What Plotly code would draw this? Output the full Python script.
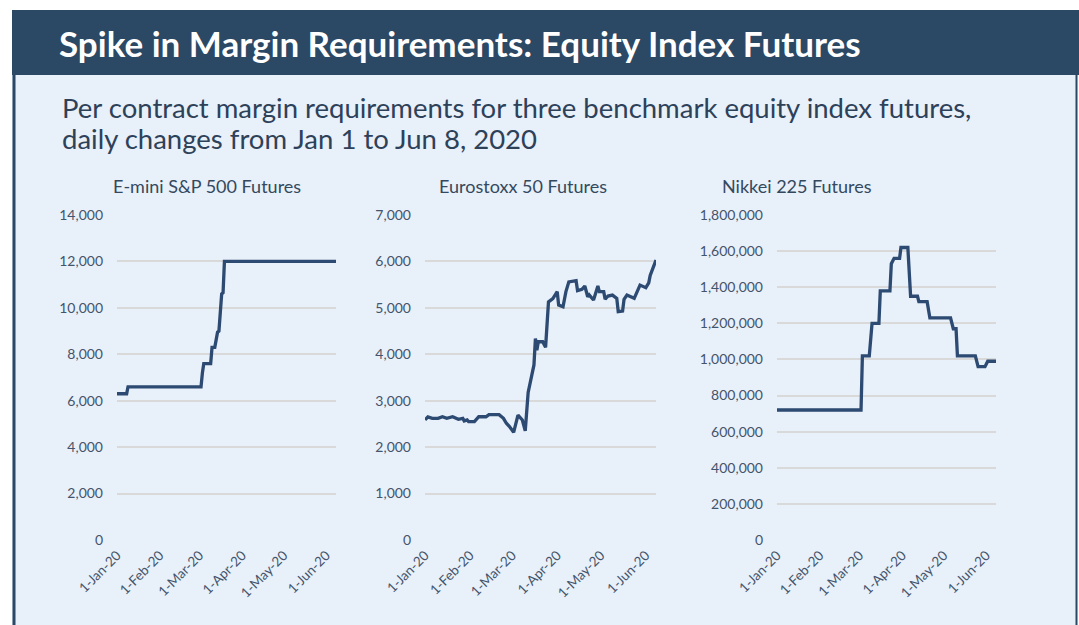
import plotly.graph_objects as go

# ---------------- data ----------------
sp_dates = ["2020-01-01", "2020-01-08", "2020-01-09", "2020-03-02", "2020-03-03", "2020-03-04",
            "2020-03-09", "2020-03-10", "2020-03-12", "2020-03-14", "2020-03-15", "2020-03-17",
            "2020-03-18", "2020-03-19", "2020-06-08"]
sp_values = [6300, 6300, 6600, 6600, 7200, 7600,
             7600, 8300, 8300, 8950, 9000, 10600,
             10650, 12000, 12000]

es_dates = ["2020-01-01", "2020-01-03", "2020-01-06", "2020-01-10", "2020-01-13", "2020-01-16",
            "2020-01-20", "2020-01-24", "2020-01-27", "2020-01-28", "2020-01-30", "2020-01-31",
            "2020-02-04", "2020-02-07", "2020-02-12", "2020-02-14", "2020-02-21", "2020-02-24",
            "2020-02-26", "2020-02-28", "2020-03-02", "2020-03-05", "2020-03-08", "2020-03-10",
            "2020-03-12", "2020-03-16", "2020-03-17", "2020-03-18", "2020-03-19", "2020-03-22",
            "2020-03-24", "2020-03-26", "2020-03-29", "2020-04-01", "2020-04-02", "2020-04-05",
            "2020-04-07", "2020-04-09", "2020-04-14", "2020-04-15", "2020-04-18", "2020-04-20",
            "2020-04-22", "2020-04-23", "2020-04-26", "2020-04-29", "2020-04-30", "2020-05-03",
            "2020-05-04", "2020-05-06", "2020-05-09", "2020-05-12", "2020-05-13", "2020-05-16",
            "2020-05-17", "2020-05-19", "2020-05-24", "2020-05-28", "2020-06-01", "2020-06-03",
            "2020-06-04", "2020-06-08"]
es_values = [2590, 2650, 2620, 2620, 2655, 2620,
             2655, 2600, 2620, 2565, 2585, 2550,
             2550, 2655, 2655, 2700, 2700, 2620,
             2515, 2450, 2320, 2690, 2585, 2350,
             3180, 3770, 4340, 4090, 4270, 4270,
             4150, 5130, 5200, 5350, 5060, 5025,
             5350, 5560, 5585, 5370, 5400, 5470,
             5240, 5280, 5170, 5470, 5350, 5350,
             5185, 5255, 5275, 5205, 4920, 4930,
             5185, 5275, 5205, 5490, 5435, 5540,
             5700, 6030]

nk_dates = ["2020-01-01", "2020-03-02", "2020-03-03", "2020-03-08", "2020-03-10", "2020-03-15",
            "2020-03-16", "2020-03-23", "2020-03-24", "2020-03-26", "2020-03-30", "2020-03-31",
            "2020-04-05", "2020-04-07", "2020-04-12", "2020-04-13", "2020-04-19", "2020-04-21",
            "2020-05-06", "2020-05-08", "2020-05-10", "2020-05-11", "2020-05-24", "2020-05-26",
            "2020-05-31", "2020-06-02", "2020-06-08"]
nk_values = [720000, 720000, 1020000, 1020000, 1200000, 1200000,
             1380000, 1380000, 1530000, 1560000, 1560000, 1620000,
             1620000, 1350000, 1350000, 1320000, 1320000, 1230000,
             1230000, 1170000, 1170000, 1020000, 1020000, 960000,
             960000, 990000, 990000]

month_ticks = ["2020-01-01", "2020-02-01", "2020-03-01", "2020-04-01", "2020-05-01", "2020-06-01"]
month_labels = ["1-Jan-20", "1-Feb-20", "1-Mar-20", "1-Apr-20", "1-May-20", "1-Jun-20"]

panel_titles = ["E-mini S&P 500 Futures", "Eurostoxx 50 Futures", "Nikkei 225 Futures"]
main_title = "Spike in Margin Requirements: Equity Index Futures"
subtitle_1 = "Per contract margin requirements for three benchmark equity index futures,"
subtitle_2 = "daily changes from Jan 1 to Jun 8, 2020"

# ---------------- layout constants ----------------
W, H = 1079, 625
FONT = "Lato, 'Open Sans', sans-serif"
LINE_COLOR = "#2c4a72"
TICK_COLOR = "#44546a"
GRID_COLOR = "#d9d9d9"
HEADER = "#2b4865"
PANEL = "#e8f0fa"


def px_x(p):
    return p / W


def px_y(p):
    return 1 - p / H


fig = go.Figure()

series = [(sp_dates, sp_values), (es_dates, es_values), (nk_dates, nk_values)]
x_domains = [(117, 336), (425, 656), (777, 996)]
y_ranges = [(0, 14000, 2000), (0, 7000, 1000), (0, 1800000, 200000)]
title_centers = [207, 523, 797]

for i, (dts, vals) in enumerate(series):
    suffix = "" if i == 0 else str(i + 1)
    fig.add_trace(go.Scatter(x=dts, y=vals, mode="lines",
                             line=dict(color=LINE_COLOR, width=3.3),
                             xaxis="x" + suffix, yaxis="y" + suffix,
                             showlegend=False, hoverinfo="skip"))
    x0, x1 = x_domains[i]
    lo, hi, step = y_ranges[i]
    fig.update_layout(**{
        "xaxis" + suffix: dict(
            domain=[px_x(x0), px_x(x1)], anchor="y" + suffix, type="date",
            range=["2020-01-01", "2020-06-08"], automargin=False,
            tickmode="array", tickvals=month_ticks, ticktext=month_labels,
            tickangle=-45, showgrid=False, zeroline=False, showline=False,
            ticks="", ticklabelstandoff=4,
            tickfont=dict(family=FONT, size=13.5, color=TICK_COLOR),
        ),
        "yaxis" + suffix: dict(
            domain=[px_y(540), px_y(215)], anchor="x" + suffix,
            range=[lo, hi], dtick=step, tick0=0, tickformat=",d", automargin=False,
            showgrid=True, gridcolor=GRID_COLOR, gridwidth=1.5,
            zeroline=False, showline=False, ticks="",
            ticklabelstandoff=13,
            tickfont=dict(family=FONT, size=14, color=TICK_COLOR),
        ),
    })
    fig.add_annotation(x=px_x(title_centers[i]), y=px_y(186), xref="paper", yref="paper",
                       text=panel_titles[i], showarrow=False, xanchor="center", yanchor="middle",
                       font=dict(family=FONT, size=18, color="#34495e"))

# background panels
fig.add_shape(type="rect", xref="paper", yref="paper", layer="below",
              x0=px_x(12), x1=px_x(1077), y0=0, y1=px_y(75),
              fillcolor=PANEL, line=dict(width=0))
fig.add_shape(type="rect", xref="paper", yref="paper", layer="below",
              x0=px_x(12), x1=1, y0=px_y(75), y1=px_y(10),
              fillcolor=HEADER, line=dict(width=0))
fig.add_shape(type="line", xref="paper", yref="paper", layer="below",
              x0=px_x(14), x1=px_x(14), y0=0, y1=px_y(75),
              line=dict(color=HEADER, width=3))
fig.add_shape(type="line", xref="paper", yref="paper", layer="below",
              x0=px_x(1076.5), x1=px_x(1076.5), y0=0, y1=px_y(75),
              line=dict(color=HEADER, width=2))

fig.add_annotation(x=px_x(57), y=px_y(43), xref="paper", yref="paper",
                   text="<b>" + main_title + "</b>", showarrow=False,
                   xanchor="left", yanchor="middle",
                   font=dict(family=FONT, size=35, color="white"))
fig.add_annotation(x=px_x(60), y=px_y(107), xref="paper", yref="paper",
                   text=subtitle_1, showarrow=False, xanchor="left", yanchor="middle",
                   font=dict(family=FONT, size=27.5, color="#2d4159"))
fig.add_annotation(x=px_x(60), y=px_y(139), xref="paper", yref="paper",
                   text=subtitle_2, showarrow=False, xanchor="left", yanchor="middle",
                   font=dict(family=FONT, size=27.5, color="#2d4159"))

fig.update_layout(width=W, height=H, margin=dict(l=0, r=0, t=0, b=0, autoexpand=False),
                  paper_bgcolor="white", plot_bgcolor="rgba(0,0,0,0)",
                  font=dict(family=FONT))

post = "document.body.style.margin='0';document.body.style.overflow='hidden';"
fig.write_html("out.html", config={"displayModeBar": False}, post_script=post)
